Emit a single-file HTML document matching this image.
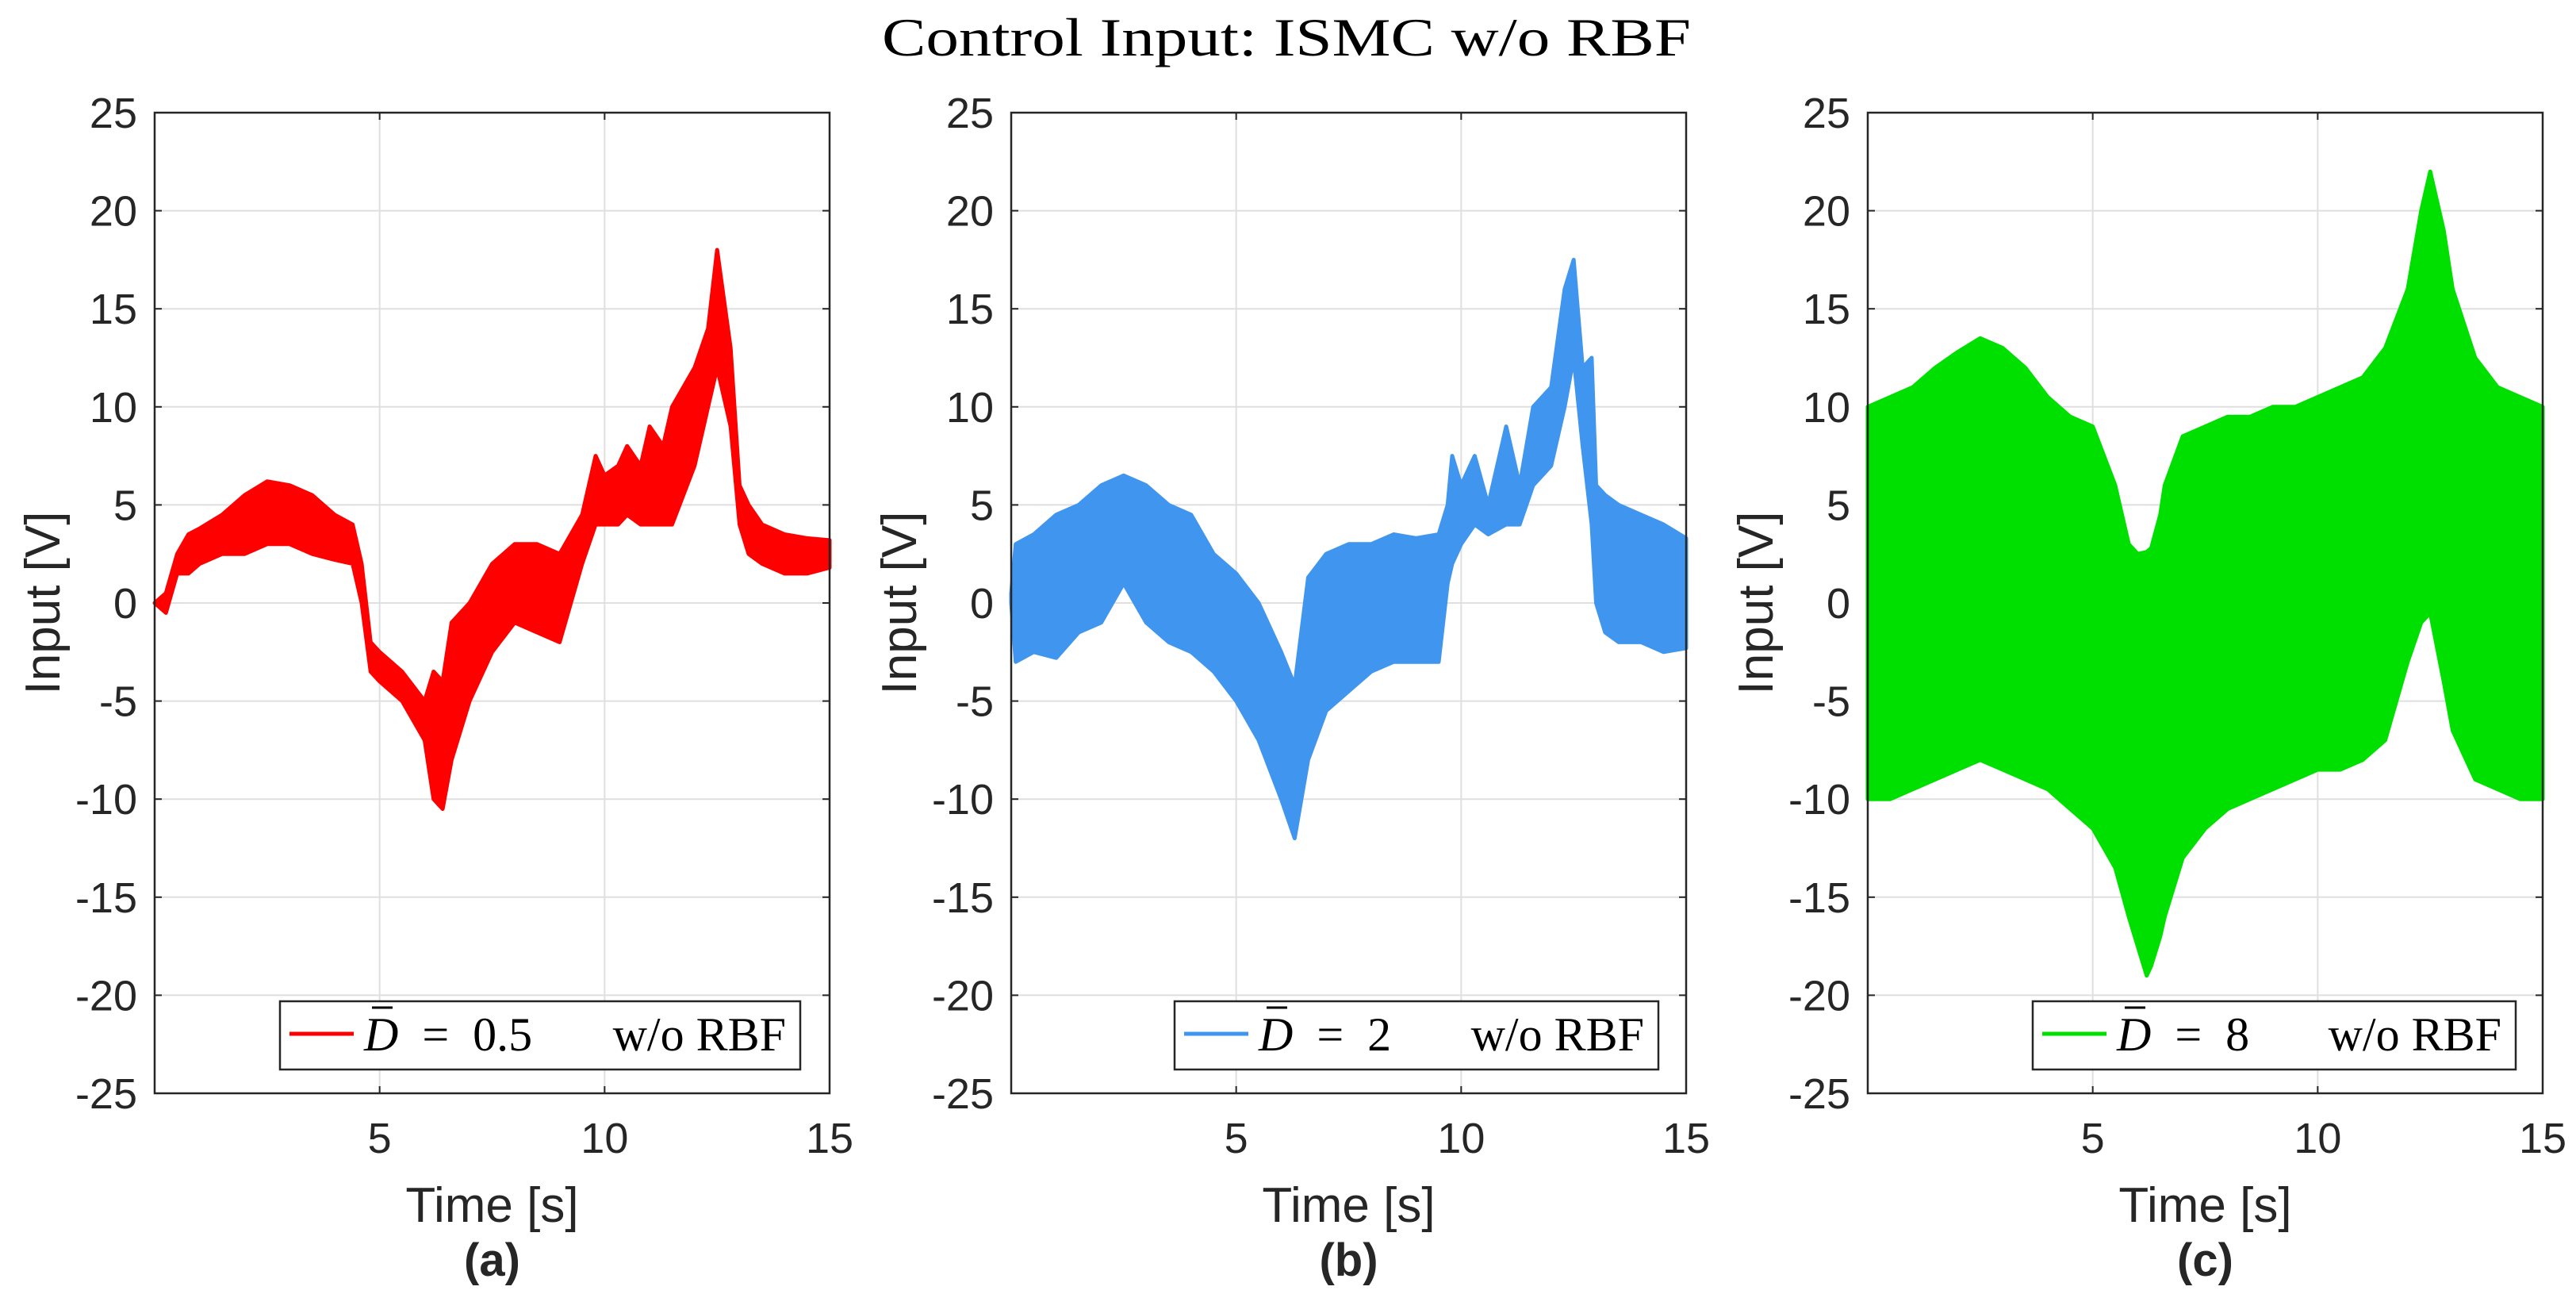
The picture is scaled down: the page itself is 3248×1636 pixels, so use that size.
<!DOCTYPE html>
<html><head><meta charset="utf-8"><style>
html,body{margin:0;padding:0;background:#fff}
svg{display:block}
text{font-family:"Liberation Sans",Arial,sans-serif;fill:#262626}
.ser{font-family:"Liberation Serif","DejaVu Serif",serif;fill:#000}
</style></head><body>
<svg id="fig" width="3248" height="1636" viewBox="0 0 3248 1636" xmlns="http://www.w3.org/2000/svg">
<rect width="3248" height="1636" fill="#fff"/>
<text class="ser" x="1112" y="70" font-size="68" textLength="1020" lengthAdjust="spacingAndGlyphs">Control Input: ISMC w/o RBF</text>
</svg>
<script>
const yTicks = [-25,-20,-15,-10,-5,0,5,10,15,20,25];
const xTicks = [5,10,15];
const tA = [0,0.25,0.5,0.75,1,1.5,2,2.5,3,3.5,4,4.4,4.6,4.8,5,5.5,6,6.2,6.4,6.6,7,7.5,8,8.5,9,9.5,9.8,10,10.3,10.5,10.8,11,11.3,11.5,12,12.3,12.5,12.8,13,13.2,13.5,14,14.5,15];
const upA = [0,0.5,2.5,3.5,3.8,4.5,5.5,6.2,6,5.5,4.5,4,2,-2,-2.5,-3.5,-5,-3.5,-4,-1,0,2,3,3,2.5,4.5,7.5,6.5,7,8,7,9,8,10,12,14,18,13,6,5,4,3.5,3.3,3.2];
const loA = [0,-0.5,1.5,1.5,2,2.5,2.5,3,3,2.5,2.2,2,0,-3.5,-4,-5,-7,-10,-10.5,-8,-5,-2.5,-1,-1.5,-2,2,4,4,4,4.5,4,4,4,4,7,10,12,9,4,2.5,2,1.5,1.5,1.8];
const tB = [0,0.1,0.5,1,1.5,2,2.5,3,3.5,4,4.5,5,5.5,6,6.3,6.6,7,7.5,8,8.5,9,9.5,9.7,9.8,10,10.3,10.6,11,11.3,11.6,12,12.3,12.5,12.7,12.9,13,13.2,13.5,14,14.5,15];
const upB = [0.5,3,3.5,4.5,5,6,6.5,6,5,4.5,2.5,1.5,0,-2.5,-4.2,1.3,2.5,3,3,3.5,3.3,3.5,5,7.5,6,7.5,5,9,6,10,11,16,17.5,12,12.5,6,5.5,5,4.5,4,3.3];
const loB = [0,-3,-2.5,-2.8,-1.5,-1,1,-1,-2,-2.5,-3.5,-5,-7,-10,-12,-8,-5.5,-4.5,-3.5,-3,-3,-3,1,2,3,4,3.5,4,4,6,7,10,12.5,8,4,0,-1.5,-2,-2,-2.5,-2.3];
const tC = [0,0.5,1,1.5,2,2.5,3,3.5,4,4.5,5,5.5,5.8,6,6.2,6.3,6.5,6.6,7,7.5,8,8.5,9,9.5,10,10.5,11,11.5,12,12.3,12.5,12.8,13,13.5,14,14.5,15];
const upC = [10,10.5,11,12,12.8,13.5,13,12,10.5,9.5,9,6,3,2.5,2.6,2.8,4.5,6,8.5,9,9.5,9.5,10,10,10.5,11,11.5,13,16,20,22,19,16,12.5,11,10.5,10];
const loC = [-10,-10,-9.5,-9,-8.5,-8,-8.5,-9,-9.5,-10.5,-11.5,-13.5,-16,-17.5,-19,-18.5,-17,-16,-13,-11.5,-10.5,-10,-9.5,-9,-8.5,-8.5,-8,-7,-3,-1,-0.5,-4,-6.5,-9,-9.5,-10,-10];
const panelLabels = ['(a)','(b)','(c)'];
const legendVals = ['0.5','2','8'];
const colors = ['#ff0000','#4096ee','#00e000'];

const NS='http://www.w3.org/2000/svg';
const svg=document.getElementById('fig');
function el(tag,attrs,parent){const e=document.createElementNS(NS,tag);for(const k in attrs)e.setAttribute(k,attrs[k]);(parent||svg).appendChild(e);return e;}

const panels=[
 {x0:195,t:tA,up:upA,lo:loA,leg:[353,1009]},
 {x0:1275,t:tB,up:upB,lo:loB,leg:[1481,2091]},
 {x0:2355,t:tC,up:upC,lo:loC,leg:[2563,3172]}
];
const W=851, Y0=142, Y1=1378;
panels.forEach((p,i)=>{
  const g=el('g',{});
  
  
  const xs=t=>p.x0+t/15*W;
  const ys=v=>Y0+(25-v)/50*(Y1-Y0);
  yTicks.forEach(v=>{
    const l=el('line',{x1:p.x0,x2:p.x0+W,y1:ys(v),y2:ys(v),stroke:'#dfdfdf','stroke-width':2},g);
    
    
    el('line',{x1:p.x0,x2:p.x0+9,y1:ys(v),y2:ys(v),stroke:'#262626','stroke-width':2},g);
    el('line',{x1:p.x0+W-9,x2:p.x0+W,y1:ys(v),y2:ys(v),stroke:'#262626','stroke-width':2},g);
    const tx=el('text',{x:p.x0-22,y:ys(v)+19,'font-size':54,'text-anchor':'end'},g);
    tx.textContent=v;
    
    
  });
  xTicks.forEach(v=>{
    const l=el('line',{x1:xs(v),x2:xs(v),y1:Y0,y2:Y1,stroke:'#dfdfdf','stroke-width':2},g);
    
    
    el('line',{x1:xs(v),x2:xs(v),y1:Y1-9,y2:Y1,stroke:'#262626','stroke-width':2},g);
    el('line',{x1:xs(v),x2:xs(v),y1:Y0,y2:Y0+9,stroke:'#262626','stroke-width':2},g);
    const tx=el('text',{x:xs(v),y:1453,'font-size':54,'text-anchor':'middle'},g);
    tx.textContent=v;
    
    
  });
  let d='M'+p.t.map((t,k)=>xs(t).toFixed(1)+','+ys(p.up[k]).toFixed(1)).join('L');
  for(let k=p.t.length-1;k>=0;k--) d+='L'+xs(p.t[k]).toFixed(1)+','+ys(p.lo[k]).toFixed(1);
  d+='Z';
  const s=el('path',{d:d,fill:colors[i],stroke:colors[i],'stroke-width':5,'stroke-linejoin':'round'},g);
  
  
  const bx=el('rect',{x:p.x0,y:Y0,width:W,height:Y1-Y0,fill:'none',stroke:'#262626','stroke-width':2.5},g);
  
  
  const yl=el('text',{x:0,y:0,'font-size':62,'text-anchor':'middle',transform:`translate(${p.x0-120},${(Y0+Y1)/2}) rotate(-90)`},g);
  yl.textContent='Input [V]';
  
  
  const xl=el('text',{x:p.x0+W/2,y:1540,'font-size':62,'text-anchor':'middle'},g);
  xl.textContent='Time [s]';
  
  
  const pl=el('text',{x:p.x0+W/2,y:1608,'font-size':58,'font-weight':'bold','text-anchor':'middle',fill:'#000'},g);
  pl.textContent=panelLabels[i];
  
  
  const lg=el('g',{},g);
  
  
  const [lx0,lx1]=p.leg;
  el('rect',{x:lx0,y:1262,width:lx1-lx0,height:86,fill:'#fff',stroke:'#262626','stroke-width':2.5},lg);
  const ls=el('line',{x1:lx0+12,x2:lx0+93,y1:1303,y2:1303,stroke:colors[i],'stroke-width':5},lg);
  
  
  const lt=el('text',{x:lx0+106,y:1324,'font-size':60,class:'ser'},lg);
  
  
  const dd=el('tspan',{'font-style':'italic'},lt); dd.textContent='D';
  el('line',{x1:lx0+116,x2:lx0+142,y1:1270,y2:1270,stroke:'#000','stroke-width':3},lg);
  const rest=el('tspan',{},lt); rest.textContent='\u2002=\u2002'+legendVals[i];
  const rt=el('text',{x:lx1-18,y:1324,'font-size':60,class:'ser','text-anchor':'end'},lg);
  rt.textContent='w/o RBF';
  
  
});
</script>
</body></html>
